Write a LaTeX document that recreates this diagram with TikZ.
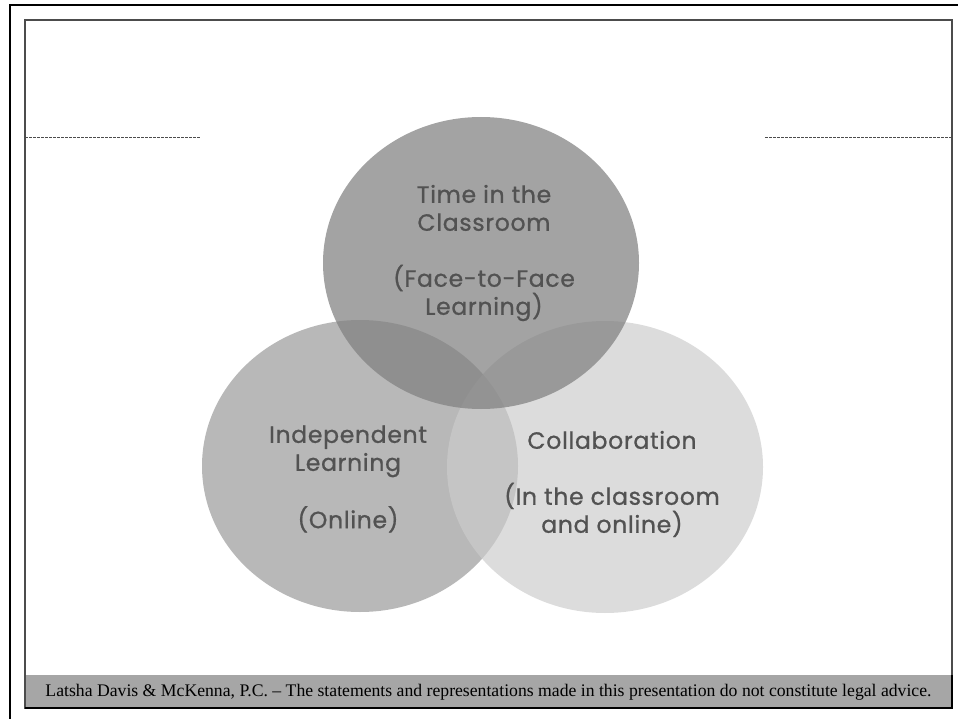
\documentclass[tikz,border=0pt]{standalone}
\usepackage{fontspec}
\usepackage{graphicx}
\newfontfamily\vennfont[FakeBold=0.9,LetterSpace=3]{Poppins}
\newfontfamily\notefont{Liberation Serif}
\usetikzlibrary{positioning}
\definecolor{toptone}{gray}{0.50}
\definecolor{lefttone}{gray}{0.72}
\definecolor{righttone}{gray}{0.80}
\definecolor{labeltone}{gray}{0.32}
\definecolor{bartone}{gray}{0.65}
\definecolor{rimtone}{gray}{0.30}
\begin{document}
\begin{tikzpicture}[x=1pt,y=-1pt,
  venn/.style={align=center,text=labeltone,inner sep=0pt,font=\vennfont\fontsize{23.5}{28}\selectfont},
  guide/.style={rimtone,line width=0.8pt,dash pattern=on 3pt off 1pt}]
\useasboundingbox (0,0) rectangle (958,719);
\draw[line width=2pt] (10,719) -- (10,5) -- (958,5);
\fill[bartone] (25,675) rectangle (952,708);
\draw[rimtone,line width=1.2pt] (25,20) rectangle (952,708);
\draw[black,line width=1.6pt] (25,708) -- (952,708) -- (952,675);
\coordinate (gl1) at (25,137); \coordinate (gl2) at (200,137);
\coordinate (gr1) at (765,137); \coordinate (gr2) at (952,137);
\draw[guide] (gl1) -- (gl2);
\draw[guide] (gr1) -- (gr2);
\fill[lefttone] (360,466) ellipse [x radius=158,y radius=146];
\fill[righttone,fill opacity=0.68] (605,467) ellipse [x radius=158,y radius=146];
\fill[toptone,fill opacity=0.72] (481,263) ellipse [x radius=158,y radius=146];
\node[venn] (classroom) at (484,253) {Time in the\\Classroom\\[28pt](Face-to-Face\\Learning)};
\node[venn] (online) at (348,479) {Independent\\Learning\\[28pt](Online)};
\node[venn] (collab) at (612,484) {Collaboration\\[28pt](In the classroom\\and online)};
\node[font=\notefont\fontsize{16}{18}\selectfont,inner sep=0pt] (disclaimer) at (488.5,692) {\resizebox{886pt}{!}{Latsha Davis \& McKenna, P.C. – The statements and representations made in this presentation do not constitute legal advice.}};
\end{tikzpicture}
\end{document}
